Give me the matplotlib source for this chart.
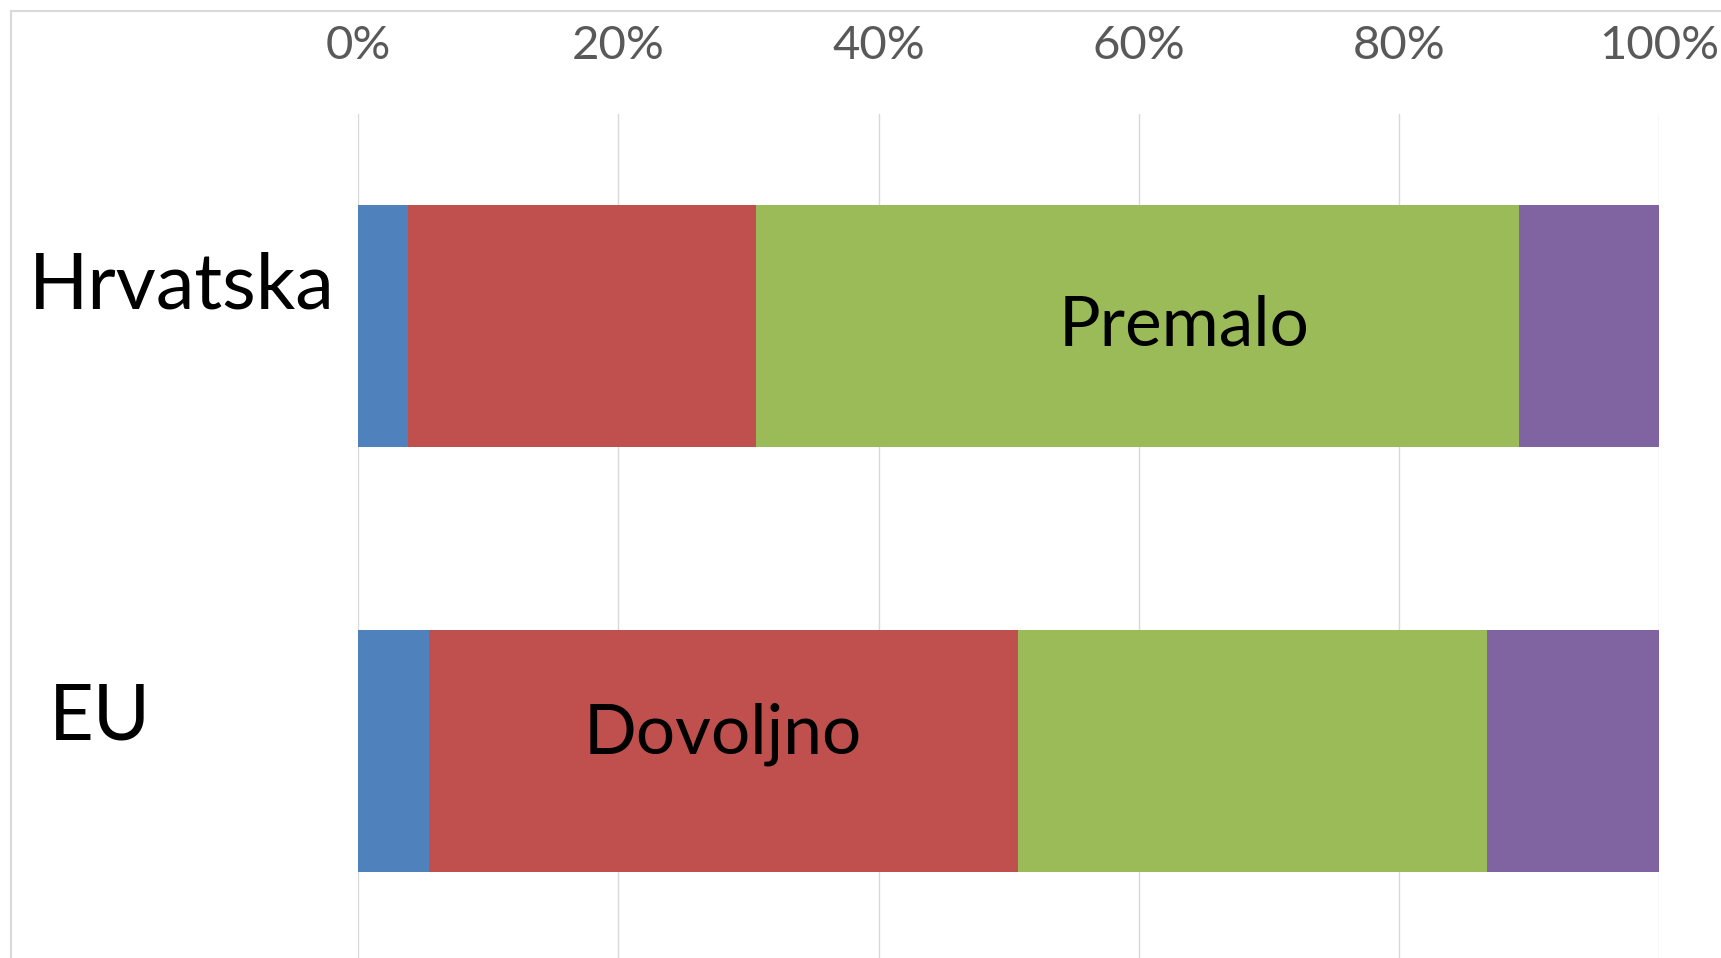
import matplotlib
matplotlib.use("Agg")
import matplotlib.pyplot as plt
from matplotlib.patches import Rectangle

categories = ["Hrvatska", "EU"]
series_names = ["Previše", "Dovoljno", "Premalo", "Ne zna"]
values_hr = [3.8, 26.8, 58.6, 10.8]
values_eu = [5.4, 45.3, 36.1, 13.2]
colors = ["#4F81BD", "#C0504D", "#9BBB59", "#8064A2"]
x_ticks = [0, 20, 40, 60, 80, 100]
x_tick_labels = ["0%", "20%", "40%", "60%", "80%", "100%"]
# text labels drawn inside segments: (category index, series index, text)
segment_labels = [(0, 2, "Premalo"), (1, 1, "Dovoljno")]

plt.rcParams['font.family'] = ['Lato', 'DejaVu Sans']

W, H = 1721, 958
fig = plt.figure(figsize=(W / 100, H / 100), dpi=100)
ax = fig.add_axes([358.3 / W, -5.5 / H, 1300.7 / W, 849.5 / H])

ypos = [1, 0]
data = [values_hr, values_eu]
lefts = [0.0, 0.0]
seg_bounds = {}
for s in range(len(series_names)):
    widths = [data[c][s] for c in range(len(categories))]
    ax.barh(ypos, widths, left=lefts, height=0.57, color=colors[s],
            edgecolor="none", zorder=3)
    for c in range(len(categories)):
        seg_bounds[(c, s)] = (lefts[c], lefts[c] + widths[c])
    lefts = [lefts[c] + widths[c] for c in range(len(categories))]

ax.set_xlim(0, 100)
ax.set_ylim(-0.5, 1.5)
ax.set_xticks(x_ticks)
ax.set_xticklabels(x_tick_labels)
ax.xaxis.tick_top()
ax.tick_params(axis='x', length=0, pad=34, labelsize=34, labelcolor="#595959")
ax.set_yticks([])
ax.grid(axis='x', color="#D9D9D9", linewidth=1.0, zorder=0)
for sp in ax.spines.values():
    sp.set_visible(False)

# segment labels
offsets = {(0, 2): (3.6, 0.0), (1, 1): (0.0, 0.04)}
for c, s, txt in segment_labels:
    a, b = seg_bounds[(c, s)]
    dx, dy = offsets[(c, s)]
    ax.text((a + b) / 2 + dx, ypos[c] + dy, txt, ha="center", va="center",
            fontsize=50, color="black", zorder=5)

# category labels
cat_pos = {"Hrvatska": (182 / W, 1 - 287 / H), "EU": (100 / W, 1 - 718 / H)}
for name in categories:
    x, y = cat_pos[name]
    fig.text(x, y, name, ha="center", va="center", fontsize=56, color="black")

# outer frame
fig.patches.append(Rectangle((11 / W, -0.05), 1.1, 1 - 11 / H + 0.05,
                             transform=fig.transFigure, fill=False,
                             edgecolor="#D9D9D9", linewidth=1.5))

fig.savefig("out.png", dpi=100)
